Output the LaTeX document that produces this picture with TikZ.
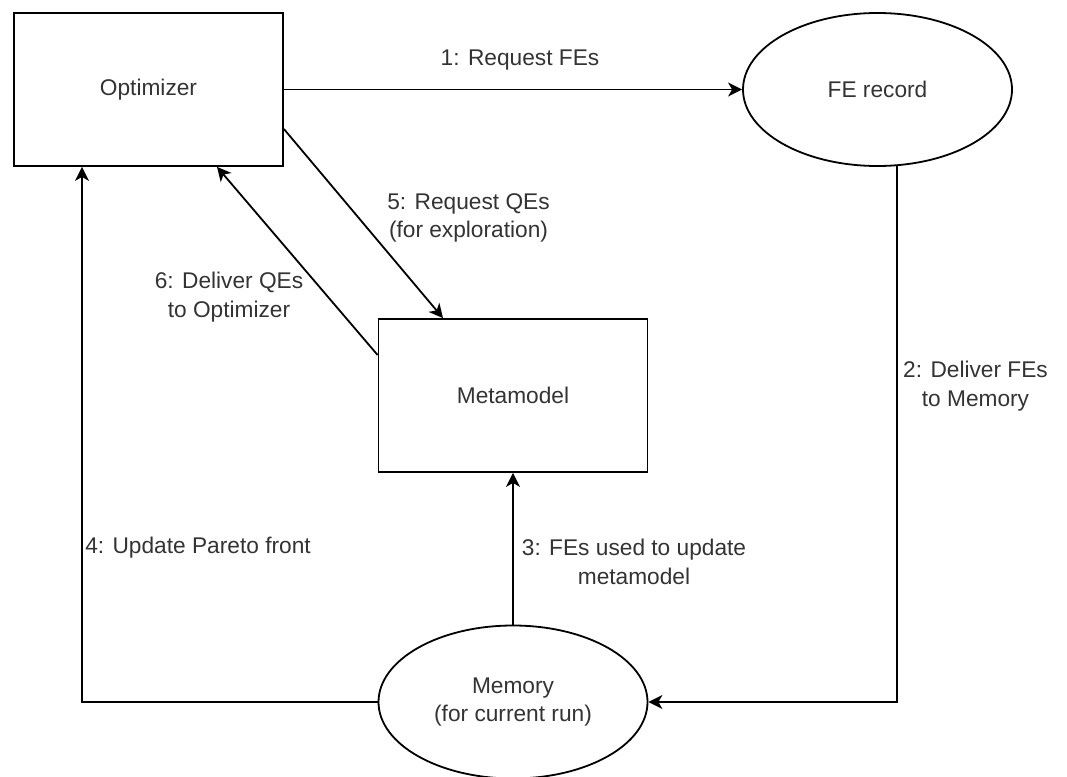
\documentclass[tikz,border=0pt]{standalone}
\usepackage{fontspec}
\setmainfont{Liberation Sans}
\usetikzlibrary{shapes.geometric,arrows.meta,calc}
\begin{document}
\begin{tikzpicture}[x=1pt,y=-1pt,
  every node/.style={font=\fontsize{22.7}{28.5}\selectfont, text=black!80},
  box/.style={draw=black, line width=1.8pt, rectangle, minimum width=269pt, minimum height=153pt, inner sep=0pt},
  oval/.style={draw=black, line width=1.8pt, ellipse, minimum width=269pt, minimum height=153pt, inner sep=0pt, align=center},
  conn/.style={draw=black, line width=1.8pt, -{Stealth[length=14pt,width=14pt,inset=4pt]}},
  lbl/.style={align=center, inner sep=0pt}]
\path[use as bounding box] (0,0) rectangle (1067,776);
% nodes
\node[box]  (opt)  at (148.5,89.5) {Optimizer};
\node[oval] (fe)   at (877.5,89.5) {FE record};
\node[box]  (meta) at (513,395.5) {Metamodel};
\node[oval] (mem)  at (513,702) {Memory\\(for current run)};
% connectors
\draw[conn] (opt.east) -- (fe.west);
\draw[conn] ([xshift=19.5pt,yshift=0.6pt]fe.south) |- (mem.east);
\draw[conn] (mem.north) -- (meta.south);
\draw[conn] (mem.west) -| ([xshift=-66.5pt]opt.south);
\draw[conn] ([yshift=-39.5pt]opt.east) -- ([xshift=-70pt]meta.north);
\draw[conn] ([yshift=40.5pt]meta.west) -- ([xshift=68.5pt]opt.south);
% labels
\node[lbl] (l1) at (520,60) {1: Request FEs};
\node[lbl] (l2) at (975.5,386) {2: Deliver FEs\\to Memory};
\node[lbl] (l3) at (634,562) {3: FEs used to update\\metamodel};
\node[lbl] (l4) at (198,548) {4: Update Pareto front};
\node[lbl] (l5) at (468.5,218) {5: Request QEs\\(for exploration)};
\node[lbl] (l6) at (229,297) {6: Deliver QEs\\to Optimizer};
\end{tikzpicture}
\end{document}
